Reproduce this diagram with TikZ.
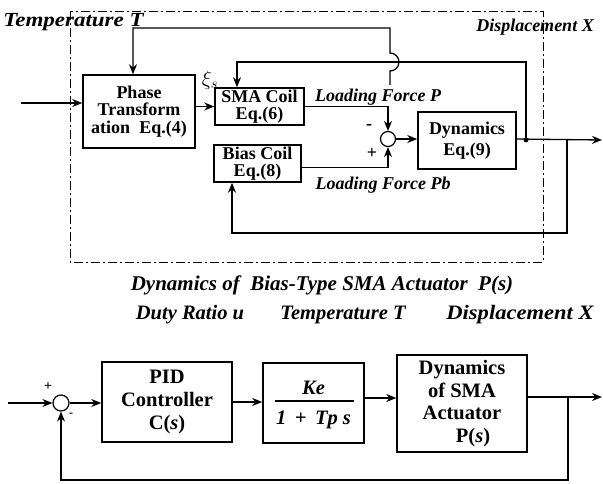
\documentclass[tikz,border=0pt]{standalone}
\usepackage{fontspec}
\setmainfont{Liberation Serif}
\usetikzlibrary{arrows.meta,calc}
\begin{document}
\begin{tikzpicture}[x=1pt,y=-1pt,
  box/.style={draw,line width=1.5pt,rectangle,align=center,inner sep=0pt},
  arr/.style={line width=1.3pt,-{Stealth[length=10pt,width=8pt]}},
  tf/.style={font=\fontsize{18}{17.5}\selectfont\bfseries},
  bf/.style={font=\fontsize{20.5}{22.7}\selectfont\bfseries},
  lab/.style={font=\fontsize{18}{20}\selectfont\bfseries\itshape},
  captext/.style={font=\fontsize{21}{22}\selectfont\bfseries\itshape},
  sigtext/.style={font=\fontsize{20.5}{22}\selectfont\bfseries\itshape},
  sumc/.style={draw,circle,line width=1.2pt,minimum size=15pt,inner sep=0pt},
  dashbox/.style={line width=1pt,dash pattern=on 9pt off 3pt on 2pt off 3pt}
]
\useasboundingbox (0,0) rectangle (603,483);

% ---------- upper diagram ----------
\draw[dashbox] (70,11) rectangle (543,262);

\node[box,tf,minimum width=112pt,minimum height=73pt] (pt) at (139,111.5) {Phase\\Transform\\ation\enspace Eq.(4)};
\node[box,tf,minimum width=89pt,minimum height=37pt] (sma) at (259.5,106.5) {SMA Coil\\Eq.(6)};
\node[box,tf,minimum width=87pt,minimum height=37pt] (bias) at (257.5,163.5) {Bias Coil\\Eq.(8)};
\node[box,tf,minimum width=98pt,minimum height=57pt] (dyn) at (467,140.5) {Dynamics\\[4pt]Eq.(9)};
\node[sumc] (sum) at (388,139) {};

\node[font=\fontsize{20}{20}\selectfont\bfseries\itshape] (tT) at (73.5,22) {\scalebox{1.15}[1]{Temperature T}};
\node[lab] (dX) at (535,27) {Displacement X};
\node[font=\fontsize{22}{22}\selectfont] (xi) at (210,80) {$\xi_s$};
\node[lab] (lfp) at (378,97) {Loading Force P};
\node[lab] (lfpb) at (383,185) {Loading Force Pb};
\node[tf] (m1) at (369,127) {-};
\node[tf] (p1) at (372,153) {+};

\coordinate (in1) at (21,103);
\coordinate (j1) at (526,140);
\coordinate (j2) at (567,140);
\coordinate (out1) at (602,140);
\coordinate (fbT) at (526,62);
\coordinate (smaIn) at ([xshift=-22.5pt]sma.north);
\coordinate (tS) at (390,85);
\coordinate (tA) at (390,71);
\coordinate (tB) at (390,28);
\coordinate (tC) at (133,28);
\coordinate (bB) at (567,233);

\draw[arr] (in1) -- (in1 -| pt.west);
\draw[arr] (pt.east |- sma.west) -- (sma.west);
\draw[arr] (sma.east) -| (sum.north);
\draw[arr] ([yshift=-4pt]bias.east) -| (sum.south);
\draw[arr] (sum.east) -- (sum.east -| dyn.west);
\draw[arr] (dyn.east |- sum.east) -- (out1);
\fill (j1) circle (2.4pt);
\draw[arr] (j1) -- (fbT) -- (fbT -| smaIn) -- (smaIn);
\draw[arr] (tS) -- (tA) arc[start angle=-90,end angle=90,radius=9pt] -- (tB) -- (tC) -- ([xshift=-6pt]pt.north);
\draw[arr] (j2) -- (bB) -| ([xshift=-25.5pt]bias.south);

% ---------- captions ----------
\node[captext] (title) at (322,285) {Dynamics of\ \ Bias-Type SMA Actuator\ \ P(s)};
\node[sigtext] (du) at (190,315) {Duty Ratio u};
\node[sigtext] (tT2) at (343,315) {Temperature T};
\node[sigtext] (dX2) at (520,315) {\scalebox{1.1}[1]{Displacement X}};

% ---------- lower diagram ----------
\node[box,bf,minimum width=130pt,minimum height=80pt] (pid) at (167,402) {PID\\Controller\\C(\textit{s})};
\node[box,minimum width=101pt,minimum height=80pt] (ke) at (313.5,403) {};
\node[sigtext] (ken) at (313.5,388) {Ke};
\node[sigtext] (ked) at (313.5,420) {1\ \,+\ \,Tp s};
\draw[line width=1.4pt] (275,401) -- (354,401);
\node[box,bf,minimum width=130pt,minimum height=97pt] (dyn2) at (462,403.5) {Dynamics\\of SMA\\Actuator\\\hspace*{22pt}P(\textit{s})};
\node[sumc,minimum size=16pt] (sum2) at (61,403) {};
\node[font=\fontsize{14}{14}\selectfont\bfseries] (p2) at (48,387) {+};
\node[font=\fontsize{12}{12}\selectfont\bfseries] (m2) at (71,415) {-};

\coordinate (in2) at (8,403);
\coordinate (out2) at (602,397);
\coordinate (j3) at (568,397);
\coordinate (fb2) at (568,480);

\draw[arr] (in2) -- (sum2.west);
\draw[arr] (sum2.east) -- (sum2.east -| pid.west);
\draw[arr] (pid.east) -- (pid.east -| ke.west);
\draw[arr] ([yshift=5pt]ke.east) -- ([yshift=5pt]ke.east -| dyn2.west);
\draw[arr] ([yshift=6.5pt]dyn2.east) -- (out2);
\draw[arr] (j3) -- (fb2) -| (sum2.south);
\end{tikzpicture}
\end{document}
